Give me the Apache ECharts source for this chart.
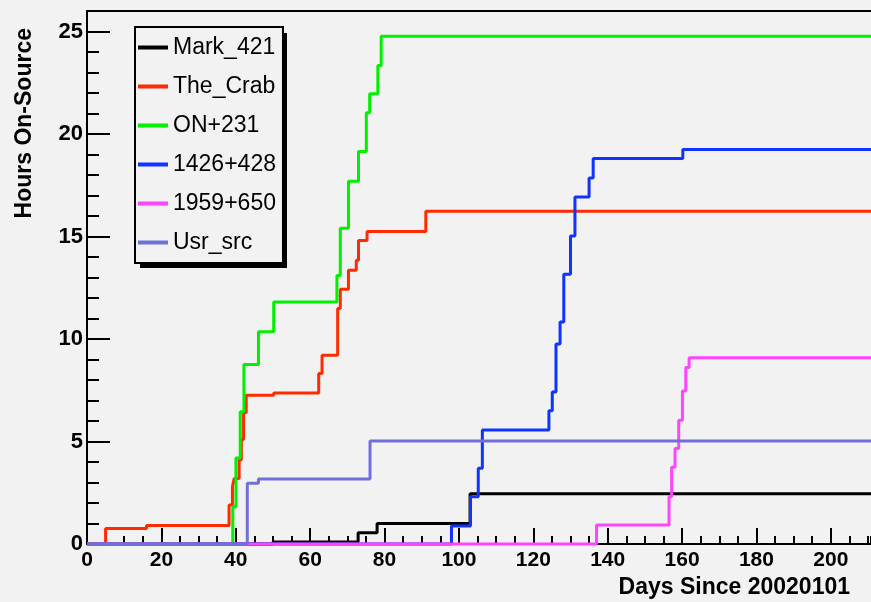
<!DOCTYPE html>
<html>
<head>
<meta charset="utf-8">
<script src="https://cdn.jsdelivr.net/npm/echarts@6/dist/echarts.min.js"></script>
<style>
  html, body { margin: 0; padding: 0; background: #f2f2f2; }
  #chart { width: 871px; height: 602px; }
</style>
</head>
<body>
<div id="chart"></div>
<script>
// Cumulative hours on-source per target, as [day, hours] step points.
const DAY_MAX = 210.8;
const HOURS_MAX = 26;

const sourceNames = ['Mark_421', 'The_Crab', 'ON+231', '1426+428', '1959+650', 'Usr_src'];

const mark421 = [[0, 0], [50, 0.1], [72.9, 0.55], [78, 1.0], [103, 2.45], [DAY_MAX, 2.45]];

const theCrab = [[0, 0], [5, 0.76], [16, 0.9], [38.2, 1.9], [39.1, 2.8], [39.6, 3.2], [40.9, 4.1],
  [41.5, 5.1], [42.1, 6.4], [42.8, 7.26], [50.2, 7.37], [62.3, 8.32], [63.2, 9.21], [67.4, 11.49],
  [68.1, 12.43], [70.3, 13.35], [72.4, 13.84], [73.0, 14.8], [75.3, 15.25], [91.1, 16.23], [DAY_MAX, 16.23]];

const on231 = [[0, 0], [39.2, 1.82], [40.05, 4.2], [41.2, 6.45], [42.2, 8.76], [46.1, 10.35], [50.2, 11.81],
  [67.2, 13.1], [68.1, 15.4], [70.3, 17.7], [73.0, 19.15], [75.1, 21.04], [76.0, 21.96], [78.2, 23.34],
  [79.1, 24.77], [DAY_MAX, 24.77]];

const src1426 = [[0, 0], [98.0, 0.88], [103.1, 2.3], [105.2, 3.69], [106.3, 5.56], [124.2, 6.5], [125.1, 7.42],
  [126.1, 9.76], [127.2, 10.83], [128.2, 13.16], [130.0, 15.03], [131.2, 16.93], [135.0, 17.85], [136.1, 18.8],
  [160.2, 19.25], [DAY_MAX, 19.25]];

const src1959 = [[0, 0], [137.0, 0.93], [156.5, 2.31], [157.2, 3.74], [158.1, 4.66], [159.1, 6.04],
  [160.1, 7.46], [161.0, 8.61], [161.9, 9.08], [DAY_MAX, 9.08]];

const usrSrc = [[0, 0], [43.1, 2.96], [46.1, 3.17], [76.1, 5.02], [DAY_MAX, 5.02]];

const seriesData = [mark421, theCrab, on231, src1426, src1959, usrSrc];
const lineColors = ['#000000', '#ff2a00', '#00f000', '#1034ff', '#ff44ff', '#7070dd'];

const FONT = 'Liberation Sans, Arial, Helvetica, sans-serif';

const chart = echarts.init(document.getElementById('chart'), null, { renderer: 'canvas' });

chart.setOption({
  animation: false,
  backgroundColor: '#f2f2f2',
  textStyle: { fontFamily: FONT, color: '#000' },
  grid: { left: 87, top: 11, right: 0, bottom: 58, show: false, containLabel: false, outerBoundsMode: 'none' },
  // solid drop shadow behind the legend box
  graphic: [{
    type: 'rect',
    left: 140,
    top: 33,
    z: 3,
    silent: true,
    shape: { width: 147, height: 235 },
    style: { fill: '#000' }
  }],
  legend: {
    orient: 'vertical',
    left: 135,
    top: 27,
    z: 5,
    padding: [9, 7, 9, 3],
    itemGap: 16,
    itemWidth: 30,
    itemHeight: 4,
    icon: 'rect',
    data: sourceNames,
    backgroundColor: '#f2f2f2',
    borderColor: '#000',
    borderWidth: 2,
    textStyle: { fontFamily: FONT, fontSize: 23, lineHeight: 23, color: '#000' }
  },
  xAxis: [
    {
      type: 'value', min: 0, max: DAY_MAX, interval: 20, position: 'bottom',
      name: 'Days Since 20020101', nameLocation: 'end', nameGap: -21,
      nameTextStyle: { fontFamily: FONT, fontSize: 23, fontWeight: 'bold', align: 'right', verticalAlign: 'top', padding: [32, 0, 0, 0] },
      axisLine: { show: true, lineStyle: { color: '#000', width: 2 } },
      axisTick: { show: true, inside: true, length: 16, lineStyle: { color: '#000', width: 2 } },
      axisLabel: { show: true, margin: 6, fontSize: 21, fontWeight: 'bold', color: '#000', showMaxLabel: false },
      splitLine: { show: false }
    },
    {
      type: 'value', min: 0, max: DAY_MAX, interval: 5, position: 'bottom',
      axisLine: { show: false },
      axisTick: { show: true, inside: true, length: 8, lineStyle: { color: '#000', width: 2 } },
      axisLabel: { show: false },
      splitLine: { show: false }
    },
    {
      type: 'value', min: 0, max: DAY_MAX, position: 'top',
      axisLine: { show: true, lineStyle: { color: '#000', width: 2 } },
      axisTick: { show: false },
      axisLabel: { show: false },
      splitLine: { show: false }
    }
  ],
  yAxis: [
    {
      type: 'value', min: 0, max: HOURS_MAX, interval: 5, position: 'left',
      name: 'Hours On-Source', nameLocation: 'end', nameGap: -17, nameRotate: 90,
      nameTextStyle: { fontFamily: FONT, fontSize: 23, fontWeight: 'bold', align: 'right', verticalAlign: 'bottom', padding: [0, 0, 51, 0] },
      axisLine: { show: true, lineStyle: { color: '#000', width: 2 } },
      axisTick: { show: true, inside: true, length: 23, lineStyle: { color: '#000', width: 2 } },
      axisLabel: { show: true, margin: 4, fontSize: 22, fontWeight: 'bold', color: '#000', showMaxLabel: false },
      splitLine: { show: false }
    },
    {
      type: 'value', min: 0, max: HOURS_MAX, interval: 1, position: 'left',
      axisLine: { show: false },
      axisTick: { show: true, inside: true, length: 12, lineStyle: { color: '#000', width: 2 } },
      axisLabel: { show: false },
      splitLine: { show: false }
    }
  ],
  series: sourceNames.map((name, i) => ({
    name,
    type: 'line',
    step: 'end',
    xAxisIndex: 0,
    yAxisIndex: 0,
    data: seriesData[i],
    showSymbol: false,
    symbol: 'none',
    clip: false,
    color: lineColors[i],
    lineStyle: { color: lineColors[i], width: 3 },
    emphasis: { disabled: true }
  }))
});
</script>
</body>
</html>
